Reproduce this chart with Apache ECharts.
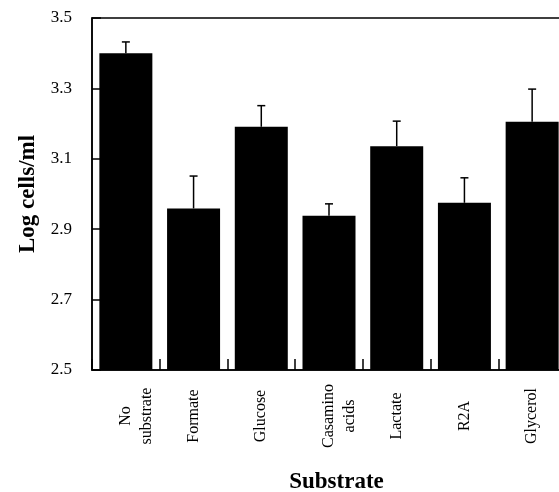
<!DOCTYPE html>
<html>
<head>
<meta charset="utf-8">
<script src="https://cdn.jsdelivr.net/npm/echarts@6/dist/echarts.min.js"></script>
<style>
html,body{margin:0;padding:0;background:#fff;}
#chart{width:559px;height:492px;}
</style>
</head>
<body>
<div id="chart"></div>
<script>
const categories = ['No substrate', 'Formate', 'Glucose', 'Casamino acids', 'Lactate', 'R2A', 'Glycerol'];
const meanLogCells = [3.400, 2.959, 3.191, 2.938, 3.136, 2.975, 3.205];
const errorUpper = [0.032, 0.092, 0.060, 0.034, 0.071, 0.071, 0.093];
const yTickValues = [2.5, 2.7, 2.9, 3.1, 3.3, 3.5];

const FONT = '"Liberation Serif", "DejaVu Serif", serif';
const chart = echarts.init(document.getElementById('chart'));

const labelMap = {
  'No substrate': ' \nNo\nsubstrate',
  'Casamino acids': ' \nCasamino\nacids'
};

chart.setOption({
  animation: false,
  backgroundColor: '#fff',
  grid: {
    left: 92, right: -7, top: 18, bottom: 122,
    containLabel: false,
    outerBoundsMode: 'none',
    show: true, borderColor: '#000', borderWidth: 1.5, backgroundColor: 'transparent'
  },
  xAxis: {
    type: 'category',
    data: categories,
    name: 'Substrate',
    nameLocation: 'middle',
    nameGap: 101,
    nameTextStyle: { fontFamily: FONT, fontWeight: 'bold', fontSize: 23, color: '#000', padding: [0, 0, 0, 15] },
    axisLine: { lineStyle: { color: '#000', width: 1.5 } },
    axisTick: { show: true, inside: true, length: 11, interval: 0, alignWithLabel: false, lineStyle: { color: '#000', width: 1.5 } },
    axisLabel: {
      interval: 0,
      rotate: 90,
      align: 'center',
      verticalAlign: 'middle',
      margin: 46,
      fontFamily: FONT,
      fontSize: 16,
      lineHeight: 21,
      color: '#000',
      formatter: function (v) { return labelMap[v] || v; }
    },
    splitLine: { show: false }
  },
  yAxis: {
    type: 'value',
    min: yTickValues[0],
    max: yTickValues[yTickValues.length - 1],
    interval: 0.2,
    name: 'Log cells/ml',
    nameLocation: 'middle',
    nameGap: 49,
    nameTextStyle: { fontFamily: FONT, fontWeight: 'bold', fontSize: 23, color: '#000' },
    axisLine: { show: true, lineStyle: { color: '#000', width: 1.5 } },
    axisTick: { show: true, inside: true, length: 9, lineStyle: { color: '#000', width: 1.5 } },
    axisLabel: {
      margin: 20,
      fontFamily: FONT,
      fontSize: 17,
      color: '#000',
      formatter: function (v) { return v.toFixed(1); }
    },
    splitLine: { show: false }
  },
  series: [
    {
      type: 'bar',
      data: meanLogCells,
      barWidth: 53,
      itemStyle: { color: '#000' }
    },
    {
      type: 'custom',
      data: meanLogCells.map(function (m, i) { return [i, m, errorUpper[i]]; }),
      z: 5,
      renderItem: function (params, api) {
        const x = api.value(0), y = api.value(1), e = api.value(2);
        const p0 = api.coord([x, y]);
        const p1 = api.coord([x, y + e]);
        const st = { stroke: '#000', lineWidth: 1.5 };
        return {
          type: 'group',
          children: [
            { type: 'line', shape: { x1: p0[0], y1: p0[1], x2: p1[0], y2: p1[1] }, style: st },
            { type: 'line', shape: { x1: p1[0] - 4, y1: p1[1], x2: p1[0] + 4, y2: p1[1] }, style: st }
          ]
        };
      }
    }
  ]
});
</script>
</body>
</html>
